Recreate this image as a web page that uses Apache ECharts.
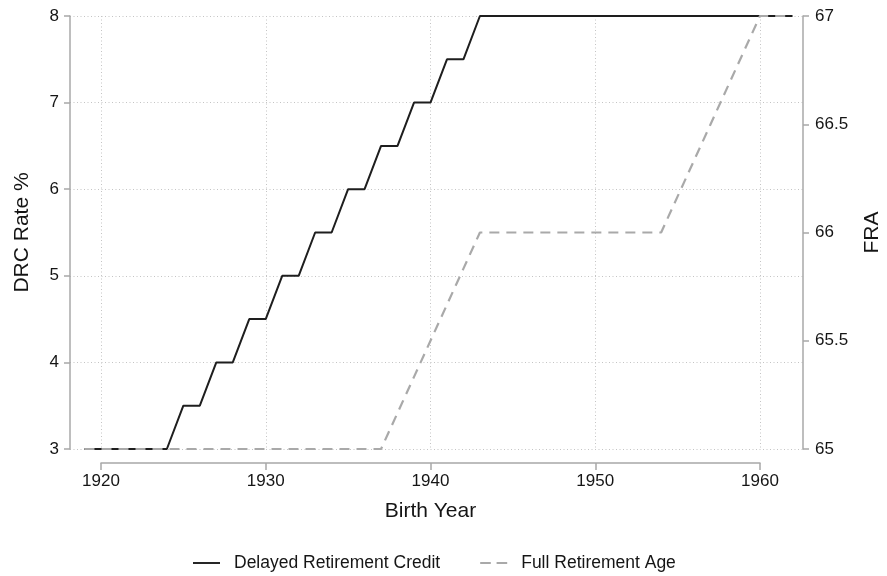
<!DOCTYPE html>
<html>
<head>
<meta charset="utf-8">
<script src="https://cdn.jsdelivr.net/npm/echarts@6/dist/echarts.min.js"></script>
<style>html,body{margin:0;padding:0;background:#fff}#c{width:887px;height:576px}</style>
</head>
<body>
<div id="c"></div>
<script>
var years = [1919,1920,1921,1922,1923,1924,1925,1926,1927,1928,1929,1930,1931,1932,1933,1934,1935,1936,1937,1938,1939,1940,
  1941,1942,1943,1944,1945,1946,1947,1948,1949,1950,1951,1952,1953,1954,1955,1956,1957,1958,1959,1960,1961,1962];
var drcRate = [3,3,3,3,3,3,3.5,3.5,4,4,4.5,4.5,5,5,5.5,5.5,6,6,6.5,6.5,7,7,
  7.5,7.5,8,8,8,8,8,8,8,8,8,8,8,8,8,8,8,8,8,8,8,8];
var fra = [65,65,65,65,65,65,65,65,65,65,65,65,65,65,65,65,65,65,65,65.1667,65.3333,65.5,
  65.6667,65.8333,66,66,66,66,66,66,66,66,66,66,66,66,66.1667,66.3333,66.5,66.6667,66.8333,67,67,67];
var xTicks = [1920,1930,1940,1950,1960];
var leftTicks = [3,4,5,6,7,8];
var rightTicks = [65,65.5,66,66.5,67];
var seriesNames = ['Delayed Retirement Credit','Full Retirement Age'];

function pairs(v){ return years.map(function(y,i){ return [y, v[i]]; }); }

var font = '"Liberation Sans", Arial, Helvetica, sans-serif';
var txt = '#151515';
var axisCol = '#a8a8a8';
var gridLine = {show:true, lineStyle:{color:'#c4c4c4', width:1, type:[1,2.5]}};
var solidIcon = 'path://M0,0H28V2H0Z';
var dashIcon = 'path://M0,0H11V2H0Z M17,0H28V2H17Z';

var chart = echarts.init(document.getElementById('c'), null, {renderer:'canvas'});
chart.setOption({
  animation:false,
  backgroundColor:'#fff',
  textStyle:{fontFamily:font},
  grid:[
    {left:70, right:84, top:16, bottom:127, outerBoundsMode:'none', containLabel:false},
    {left:101, right:127, top:16, bottom:127, outerBoundsMode:'none', containLabel:false}
  ],
  legend:{
    data:[{name:seriesNames[0], icon:solidIcon},{name:seriesNames[1], icon:dashIcon}],
    left:193, top:554, padding:0,
    itemWidth:27, itemHeight:2, itemGap:40,
    textStyle:{fontSize:17.5, color:txt, fontFamily:font, padding:[0,0,0,9]}
  },
  xAxis:[
    {gridIndex:0, type:'value', min:1918.12, max:1962.61,
     axisLine:{show:false}, axisTick:{show:false}, axisLabel:{show:false}, splitLine:{show:false}},
    {gridIndex:1, type:'value', min:xTicks[0], max:xTicks[xTicks.length-1], interval:10, offset:14,
     name:'Birth Year', nameLocation:'middle', nameGap:38,
     nameTextStyle:{fontSize:21, color:txt, fontFamily:font},
     axisLine:{show:true, onZero:false, lineStyle:{color:axisCol, width:1.5}},
     axisTick:{show:true, length:7, lineStyle:{color:axisCol, width:1.5}},
     axisLabel:{fontSize:17, color:txt, margin:10, fontFamily:font, formatter:function(v){return String(v);}},
     splitLine:gridLine}
  ],
  yAxis:[
    {gridIndex:0, type:'value', position:'left', min:leftTicks[0], max:leftTicks[leftTicks.length-1], interval:1,
     name:'DRC Rate %', nameLocation:'middle', nameGap:37, nameRotate:90,
     nameTextStyle:{fontSize:21, color:txt, fontFamily:font},
     axisLine:{show:true, onZero:false, lineStyle:{color:axisCol, width:1.5}},
     axisTick:{show:true, length:6, lineStyle:{color:axisCol, width:1.5}},
     axisLabel:{fontSize:17, color:txt, margin:11, fontFamily:font},
     splitLine:gridLine},
    {gridIndex:0, type:'value', position:'right', min:rightTicks[0], max:rightTicks[rightTicks.length-1], interval:0.5,
     name:'FRA', nameLocation:'middle', nameGap:59, nameRotate:90,
     nameTextStyle:{fontSize:21, color:txt, fontFamily:font},
     axisLine:{show:true, onZero:false, lineStyle:{color:axisCol, width:1.5}},
     axisTick:{show:true, length:6, lineStyle:{color:axisCol, width:1.5}},
     axisLabel:{fontSize:17, color:txt, margin:12, fontFamily:font},
     splitLine:{show:false}},
    {gridIndex:1, type:'value', min:0, max:1, show:false}
  ],
  series:[
    {name:seriesNames[0], type:'line', xAxisIndex:0, yAxisIndex:0, data:pairs(drcRate),
     symbol:'none', color:'#1e1e1e', lineStyle:{color:'#1e1e1e', width:2}},
    {name:seriesNames[1], type:'line', xAxisIndex:0, yAxisIndex:1, data:pairs(fra),
     symbol:'none', color:'#a9a9a9', lineStyle:{color:'#a9a9a9', width:2.2, type:[10,7]}}
  ]
});
</script>
</body>
</html>
